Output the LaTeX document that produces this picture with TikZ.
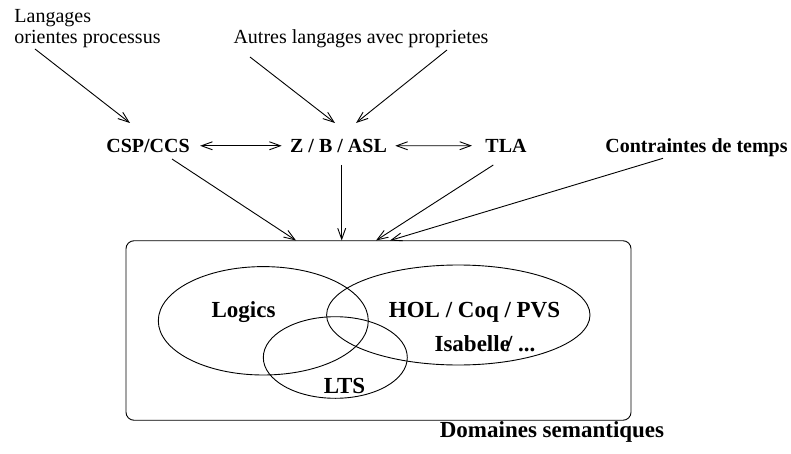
\documentclass[tikz,border=0pt]{standalone}
\usepackage{fontspec}
\setmainfont{Liberation Serif}
\usetikzlibrary{arrows.meta,calc,shapes.geometric}
\begin{document}
\begin{tikzpicture}[x=1pt,y=-1pt,
  line width=0.9pt,
  arr/.style={-{Straight Barb[length=11pt,width=8pt]}},
  darr/.style={{Straight Barb[length=11pt,width=8pt]}-{Straight Barb[length=11pt,width=8pt]}},
  lbl/.style={inner sep=0pt, font=\fontsize{20}{20.6}\selectfont},
  toplbl/.style={inner sep=0pt, font=\fontsize{20}{21}\selectfont\bfseries},
  inlbl/.style={inner sep=0pt, font=\fontsize{23}{25}\selectfont\bfseries},
  set/.style={draw, ellipse, inner sep=0pt}]
\useasboundingbox (0,0) rectangle (791,454);

% labels on top
\node[lbl, anchor=base west, align=left] (lang) at (14,43.3) {Langages\\orientes processus};
\node[lbl, anchor=base] (autres) at (361,43.3) {Autres langages avec proprietes};

% middle row
\node[toplbl, anchor=base] (csp) at (148,152.3) {CSP/CCS};
\node[toplbl, anchor=base] (zba) at (338.5,152.3) {Z / B / ASL};
\node[toplbl, anchor=base] (tla) at (506,152.3) {TLA};
\node[toplbl, anchor=base] (con) at (696.5,152.3) {Contraintes de temps};

% semantic domain box
\node[draw, rounded corners=8pt, minimum width=505pt, minimum height=179.5pt, inner sep=0pt] (box) at (378.5,330.5) {};
\node[set, minimum width=210pt, minimum height=108.4pt] (elog) at (263.3,320.8) {};
\node[set, minimum width=263.4pt, minimum height=100pt] (ehol) at (458.3,315) {};
\node[set, minimum width=144pt, minimum height=81.6pt] (elts) at (335.3,357.5) {};

\node[inlbl, anchor=base] (logics) at (243.5,317.3) {Logics};
\node[inlbl, anchor=base] (hol) at (474.5,317.3) {HOL / Coq / PVS};
\node[inlbl, anchor=base] (isa) at (485,351.7) {Isabelle\kern-0.17em/ ...};
\node[inlbl, anchor=base] (lts) at (344.5,393.3) {LTS};
\node[inlbl, anchor=base] (dom) at (552,437.3) {Domaines semantiques};

% connector end points
\coordinate (l1s) at (35,49);   \coordinate (l1e) at (130,123);
\coordinate (a1s) at (250,57);  \coordinate (a1e) at (335,123);
\coordinate (a2s) at (447,50);  \coordinate (a2e) at (356,123);
\coordinate (c1s) at (172,159); \coordinate (c1e) at (296,240.5);
\coordinate (z1s) at (341.7,165); \coordinate (z1e) at (341.7,240.5);
\coordinate (t1s) at (493.3,165); \coordinate (t1e) at (376,240.5);
\coordinate (k1s) at (663,158.3); \coordinate (k1e) at (390,240.5);

\draw[arr] (l1s) -- (l1e);
\draw[arr] (a1s) -- (a1e);
\draw[arr] (a2s) -- (a2e);
\draw[darr] ([xshift=10pt]csp.east) -- ([xshift=-8pt]zba.west);
\draw[darr] ([xshift=8pt]zba.east) -- ([xshift=-13pt]tla.west);
\draw[arr] (c1s) -- (c1e);
\draw[arr] (z1s) -- (z1e);
\draw[arr] (t1s) -- (t1e);
\draw[arr] (k1s) -- (k1e);
\end{tikzpicture}
\end{document}
